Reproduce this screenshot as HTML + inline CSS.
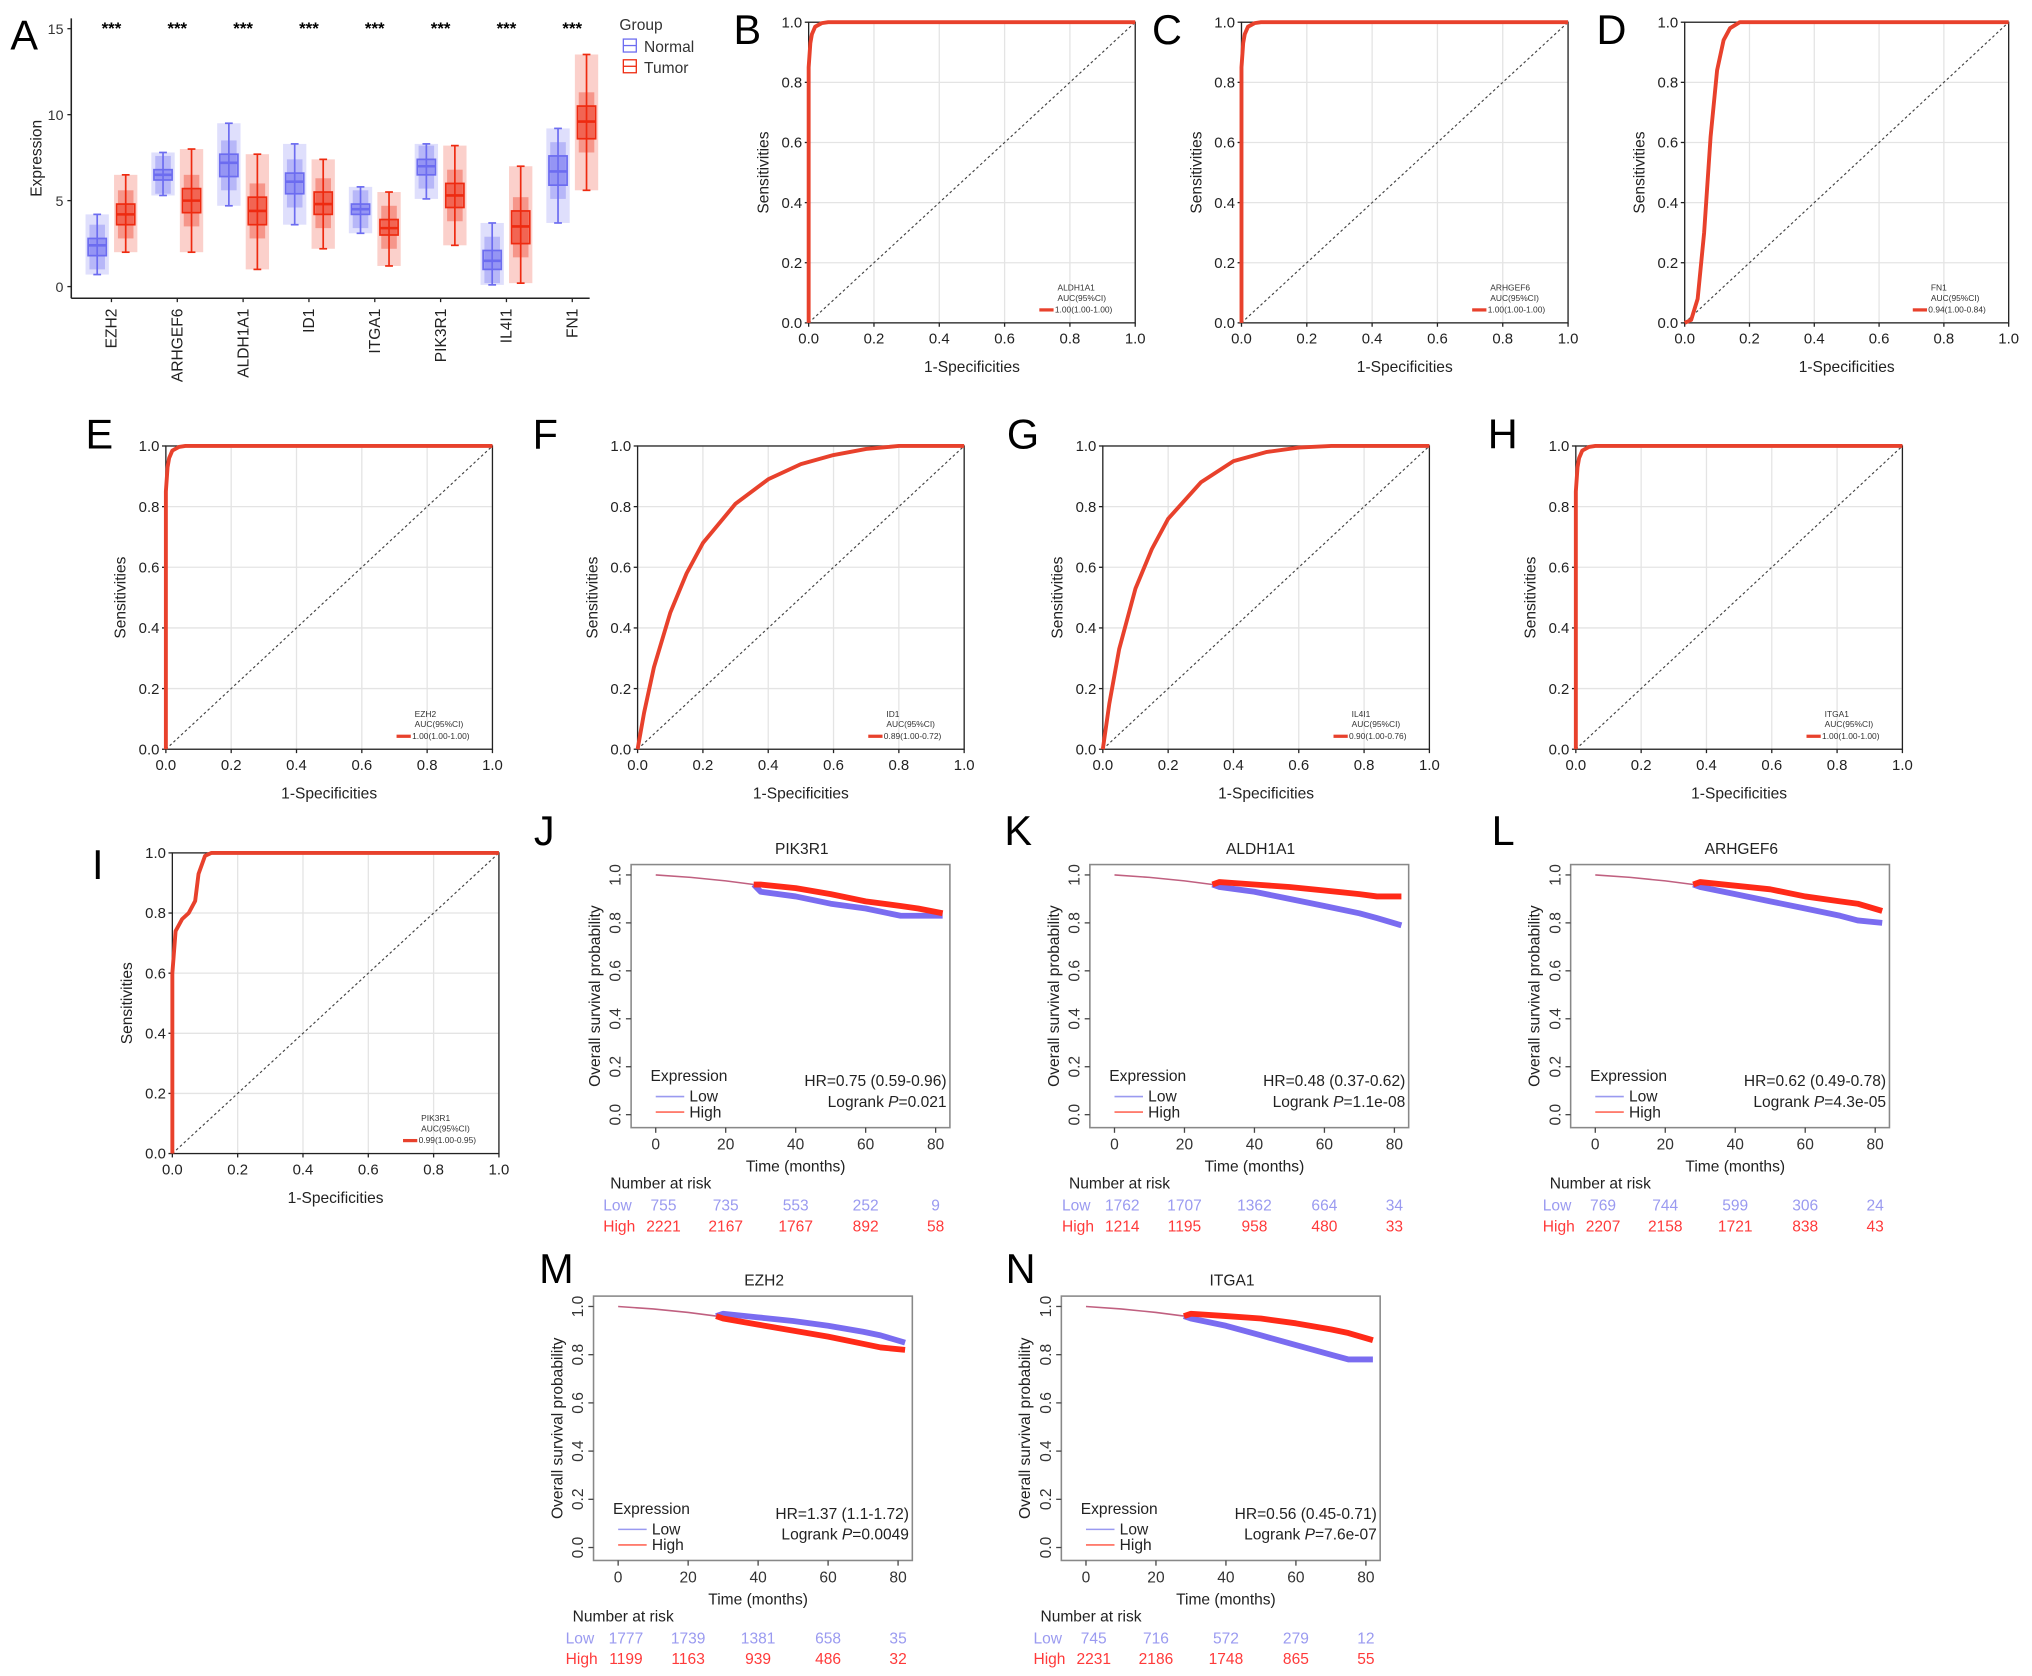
<!DOCTYPE html>
<html><head><meta charset="utf-8"><style>
html,body{margin:0;padding:0;background:#fff}
svg{display:block;font-family:"Liberation Sans",Arial,sans-serif}
</style></head><body>
<svg id="fig" width="2032" height="1676" viewBox="0 0 1568 1293" xmlns="http://www.w3.org/2000/svg"></svg>
<script>
// ---------- Panel A data ----------
const genes=["EZH2","ARHGEF6","ALDH1A1","ID1","ITGA1","PIK3R1","IL4I1","FN1"];
const normalStats=[[0.7,1.8,2.4,2.8,4.2],[5.3,6.2,6.5,6.8,7.8],[4.7,6.4,7.2,7.7,9.5],[3.6,5.4,6.1,6.6,8.3],[3.1,4.2,4.5,4.8,5.8],[5.1,6.5,7.0,7.4,8.3],[0.1,1.0,1.5,2.1,3.7],[3.7,5.9,6.7,7.6,9.2]];
const tumorStats=[[2.0,3.6,4.2,4.8,6.5],[2.0,4.3,5.0,5.7,8.0],[1.0,3.6,4.4,5.2,7.7],[2.2,4.2,4.8,5.5,7.4],[1.2,3.0,3.4,3.9,5.5],[2.4,4.6,5.3,6.0,8.2],[0.2,2.5,3.5,4.4,7.0],[5.6,8.6,9.6,10.5,13.5]];
const exprTicks=[0,5,10,15];
// ---------- ROC data ----------
const rocNames=["B","C","D","E","F","G","H","I"];
const rocGenes=["ALDH1A1","ARHGEF6","FN1","EZH2","ID1","IL4I1","ITGA1","PIK3R1"];
const rocAUC=["1.00(1.00-1.00)","1.00(1.00-1.00)","0.94(1.00-0.84)","1.00(1.00-1.00)","0.89(1.00-0.72)","0.90(1.00-0.76)","1.00(1.00-1.00)","0.99(1.00-0.95)"];
const rocPerfectFpr=[0,0,0.005,0.01,0.02,0.04,0.06,1];
const rocPerfectTpr=[0,0.85,0.93,0.96,0.985,0.997,1,1];
const rocFnFpr=[0,0.02,0.04,0.06,0.08,0.1,0.12,0.14,0.17,0.2,1];
const rocFnTpr=[0,0.01,0.08,0.3,0.62,0.84,0.94,0.98,1,1,1];
const rocIdFpr=[0,0.02,0.05,0.1,0.15,0.2,0.3,0.4,0.5,0.6,0.7,0.8,1];
const rocIdTpr=[0,0.12,0.27,0.45,0.58,0.68,0.81,0.89,0.94,0.97,0.99,1,1];
const rocIlFpr=[0,0.02,0.05,0.1,0.15,0.2,0.3,0.4,0.5,0.6,0.7,1];
const rocIlTpr=[0,0.15,0.33,0.53,0.66,0.76,0.88,0.95,0.98,0.995,1,1];
const rocPiFpr=[0,0,0.01,0.03,0.05,0.07,0.08,0.1,0.12,1];
const rocPiTpr=[0,0.6,0.74,0.78,0.8,0.84,0.93,0.99,1,1];
const rocTicks=[0,0.2,0.4,0.6,0.8,1.0];
// ---------- KM data ----------
const kmTitles=["PIK3R1","ALDH1A1","ARHGEF6","EZH2","ITGA1"];
const kmLetters=["J","K","L","M","N"];
const kmHR=["HR=0.75 (0.59-0.96)","HR=0.48 (0.37-0.62)","HR=0.62 (0.49-0.78)","HR=1.37 (1.1-1.72)","HR=0.56 (0.45-0.71)"];
const kmP=["0.021","1.1e-08","4.3e-05","0.0049","7.6e-07"];
const kmEarlyT=[0,10,20,28];
const kmEarlyS=[1,0.99,0.975,0.96];
const kmLateT=[30,40,50,60,70,75,82];
const kmLow=[[0.93,0.91,0.88,0.86,0.83,0.83,0.83],[0.95,0.93,0.9,0.87,0.84,0.82,0.79],[0.95,0.92,0.89,0.86,0.83,0.81,0.8],[0.97,0.955,0.94,0.92,0.895,0.88,0.85],[0.95,0.92,0.88,0.84,0.8,0.78,0.78]];
const kmHigh=[[0.96,0.945,0.92,0.89,0.87,0.86,0.84],[0.97,0.96,0.95,0.935,0.92,0.91,0.91],[0.97,0.955,0.94,0.91,0.89,0.88,0.85],[0.95,0.925,0.9,0.875,0.845,0.83,0.82],[0.97,0.96,0.95,0.93,0.905,0.89,0.86]];
const riskLow=[[755,735,553,252,9],[1762,1707,1362,664,34],[769,744,599,306,24],[1777,1739,1381,658,35],[745,716,572,279,12]];
const riskHigh=[[2221,2167,1767,892,58],[1214,1195,958,480,33],[2207,2158,1721,838,43],[1199,1163,939,486,32],[2231,2186,1748,865,55]];
const kmXTicks=[0,20,40,60,80];
const kmYTicks=[0,0.2,0.4,0.6,0.8,1.0];

const svg=document.getElementById('fig');
const NS="http://www.w3.org/2000/svg";
function el(tag,attrs,parent,text){const e=document.createElementNS(NS,tag);for(const k in attrs)e.setAttribute(k,attrs[k]);if(text!==undefined)e.textContent=text;(parent||svg).appendChild(e);return e;}
function grp(name){const g=el('g',{});return g;}

// ---------- Panel A ----------
(function(){
 const g=grp('panel-a-boxplot');
 const L=55,R=455,Y0=221,Y15=22,AX=230;
 const y=v=>Y0+(Y15-Y0)*v/15;
 const cx=i=>86+i*50.8;
 const t=el('text',{x:8,y:38,'font-size':32},g,'A');
 el('line',{x1:L,y1:14,x2:L,y2:AX,stroke:'#222','stroke-width':1.2},g);
 el('line',{x1:L,y1:AX,x2:R,y2:AX,stroke:'#222','stroke-width':1.2},g);
 exprTicks.forEach(v=>{el('line',{x1:L-3,y1:y(v),x2:L,y2:y(v),stroke:'#222'},g);
  const tt=el('text',{x:L-6,y:y(v)+4,'font-size':11,'text-anchor':'end',fill:'#333'},g,String(v));});
 const yt=el('text',{x:32,y:122,'font-size':12,'text-anchor':'middle',transform:'rotate(-90 32 122)',fill:'#222'},g,'Expression');
 
 function box(st,x,col,name){
  const b=grp(name);g.appendChild(b);
  el('rect',{x:x-9,y:y(st[4]),width:18,height:y(st[0])-y(st[4]),fill:col,opacity:0.22},b);
  el('rect',{x:x-6,y:y(st[3]+0.8),width:12,height:y(st[1]-0.8)-y(st[3]+0.8),fill:col,opacity:0.35},b);
  el('line',{x1:x,y1:y(st[0]),x2:x,y2:y(st[4]),stroke:col,'stroke-width':1.3},b);
  el('line',{x1:x-3,y1:y(st[0]),x2:x+3,y2:y(st[0]),stroke:col,'stroke-width':1.3},b);
  el('line',{x1:x-3,y1:y(st[4]),x2:x+3,y2:y(st[4]),stroke:col,'stroke-width':1.3},b);
  el('rect',{x:x-7,y:y(st[3]),width:14,height:y(st[1])-y(st[3]),fill:col,'fill-opacity':0.45,stroke:col,'stroke-width':1.3},b);
  el('line',{x1:x-7,y1:y(st[2]),x2:x+7,y2:y(st[2]),stroke:col,'stroke-width':2},b);
 }
 genes.forEach((gn,i)=>{
  box(normalStats[i],cx(i)-11,'#6c6cf0','box-normal-'+gn.toLowerCase());
  box(tumorStats[i],cx(i)+11,'#ee2a10','box-tumor-'+gn.toLowerCase());
  el('line',{x1:cx(i),y1:AX,x2:cx(i),y2:AX+3,stroke:'#222'},g);
  const lt=el('text',{x:cx(i)+4,y:AX+8,'font-size':12,'text-anchor':'end',transform:`rotate(-90 ${cx(i)+4} ${AX+8})`,fill:'#222'},g,gn);
  
  const s=el('text',{x:cx(i),y:26,'font-size':13,'text-anchor':'middle','font-weight':'bold'},g,'***');
  
 });
 const lg=grp('legend');g.appendChild(lg);
 el('text',{x:478,y:23,'font-size':12,fill:'#333'},lg,'Group');
 [['Normal','#6c6cf0',37],['Tumor','#ee2a10',53]].forEach(([n,c,yy])=>{
  const e=grp('legend-entry-'+n.toLowerCase());lg.appendChild(e);
  el('rect',{x:481,y:yy-7,width:10,height:10,fill:'none',stroke:c},e);
  el('line',{x1:481,y1:yy-2,x2:491,y2:yy-2,stroke:c},e);
  el('text',{x:497,y:yy+3,'font-size':12,fill:'#333'},e,n);
 });
})();

// ---------- ROC panels ----------
const rocBoxes=[[624,876,17,249,578,22],[958,1210,17,249,901,22],[1300,1550,17,249,1244,22],[128,380,344,578,78,334],[492,744,344,578,423,334],[851,1103,344,578,789,334],[1216,1468,344,578,1160,334],[133,385,658,890,83,666]];
const rocCurves=[[rocPerfectFpr,rocPerfectTpr],[rocPerfectFpr,rocPerfectTpr],[rocFnFpr,rocFnTpr],[rocPerfectFpr,rocPerfectTpr],[rocIdFpr,rocIdTpr],[rocIlFpr,rocIlTpr],[rocPerfectFpr,rocPerfectTpr],[rocPiFpr,rocPiTpr]];
rocNames.forEach((n,k)=>{
 const [x0,x1,y0,y1,lx,ly]=rocBoxes[k];
 const g=grp('panel-'+n.toLowerCase()+'-roc');
 const X=v=>x0+(x1-x0)*v, Y=v=>y1-(y1-y0)*v;
 const lt=el('text',{x:lx-12,y:ly+12,'font-size':32},g,n);
 rocTicks.forEach(v=>{
  el('line',{x1:X(v),y1:y0,x2:X(v),y2:y1,stroke:'#e4e4e4'},g);
  el('line',{x1:x0,y1:Y(v),x2:x1,y2:Y(v),stroke:'#e4e4e4'},g);
  el('line',{x1:X(v),y1:y1,x2:X(v),y2:y1+3,stroke:'#222'},g);
  el('line',{x1:x0-3,y1:Y(v),x2:x0,y2:Y(v),stroke:'#222'},g);
  el('text',{x:X(v),y:y1+16,'font-size':11.5,'text-anchor':'middle',fill:'#222'},g,v.toFixed(1));
  el('text',{x:x0-5,y:Y(v)+4,'font-size':11.5,'text-anchor':'end',fill:'#222'},g,v.toFixed(1));
 });
 el('rect',{x:x0,y:y0,width:x1-x0,height:y1-y0,fill:'none',stroke:'#222','stroke-width':1},g);
 el('line',{x1:X(0),y1:Y(0),x2:X(1),y2:Y(1),stroke:'#444','stroke-dasharray':'2,2','stroke-width':0.9},g);
 const [fx,ty]=rocCurves[k];
 const p=fx.map((f,i)=>(i?'L':'M')+X(f).toFixed(1)+' '+Y(ty[i]).toFixed(1)).join(' ');
 const c=el('path',{d:p,fill:'none',stroke:'#e8412c','stroke-width':3,'stroke-linejoin':'round'},g);
 
 el('text',{x:(x0+x1)/2,y:y1+38,'font-size':12,'text-anchor':'middle',fill:'#222'},g,'1-Specificities');
 const my=(y0+y1)/2;
 el('text',{x:x0-31,y:my,'font-size':12,'text-anchor':'middle',transform:`rotate(-90 ${x0-31} ${my})`,fill:'#222'},g,'Sensitivities');
 const lx2=x1-60;
 el('text',{x:lx2,y:y1-25,'font-size':6.5,fill:'#333'},g,rocGenes[k]);
 el('text',{x:lx2,y:y1-17,'font-size':6.5,fill:'#333'},g,'AUC(95%CI)');
 el('line',{x1:lx2-14,y1:y1-10,x2:lx2-3,y2:y1-10,stroke:'#e8412c','stroke-width':2.5},g);
 el('text',{x:lx2-2,y:y1-8,'font-size':6.5,fill:'#333'},g,rocAUC[k]);
});

// ---------- KM panels ----------
const kmPos=[[506,667,870,424,640],[860,667,870,787,640],[1231,667,870,1163,640],[477,1000,1204,428,978],[838,1000,1204,788,978]];
kmTitles.forEach((tn,k)=>{
 const [ox,by0,by1,lx,ly]=kmPos[k];
 const g=grp('panel-'+kmLetters[k].toLowerCase()+'-km');
 const X=t=>ox+(216)*t/80, Y=v=>(by1-10)-((by1-10)-(by0+8))*v;
 const lt=el('text',{x:lx-12,y:ly+12,'font-size':32},g,kmLetters[k]);
 el('text',{x:(X(0)+X(82))/2+2,y:by0-8,'font-size':12,'text-anchor':'middle',fill:'#222'},g,tn);
 el('rect',{x:ox-19,y:by0,width:246,height:by1-by0,fill:'none',stroke:'#888','stroke-width':1.2},g);
 kmXTicks.forEach((t,i)=>{el('line',{x1:X(t),y1:by1,x2:X(t),y2:by1+4,stroke:'#444'},g);
  el('text',{x:X(t),y:by1+17,'font-size':12,'text-anchor':'middle',fill:'#333'},g,String(t));});
 kmYTicks.forEach(v=>{el('line',{x1:ox-23,y1:Y(v),x2:ox-19,y2:Y(v),stroke:'#444'},g);
  el('text',{x:ox-27,y:Y(v),'font-size':12,'text-anchor':'middle',transform:`rotate(-90 ${ox-27} ${Y(v)})`,fill:'#333'},g,v.toFixed(1));});
 const my=(by0+by1)/2;
 el('text',{x:ox-43,y:my,'font-size':12,'text-anchor':'middle',transform:`rotate(-90 ${ox-43} ${my})`,fill:'#222'},g,'Overall survival probability');
 el('text',{x:X(40),y:by1+34,'font-size':12,'text-anchor':'middle',fill:'#222'},g,'Time (months)');
 const early=kmEarlyT.map((t,i)=>(i?'L':'M')+X(t).toFixed(1)+' '+Y(kmEarlyS[i]).toFixed(1)).join(' ');
 el('path',{d:early,fill:'none',stroke:'#c06080','stroke-width':1.2},g);
 function late(arr,col,name){
  const d='M'+X(28)+' '+Y(0.96)+' '+kmLateT.map((t,i)=>'L'+X(t).toFixed(1)+' '+Y(arr[i]).toFixed(1)).join(' ');
  const p=el('path',{d:d,fill:'none',stroke:col,'stroke-width':4.5,'stroke-linejoin':'round'},g);
  
 }
 late(kmLow[k],'#7a6cf0','km-curve-low');
 late(kmHigh[k],'#ff2a18','km-curve-high');
 el('text',{x:ox-4,y:by1-36,'font-size':12,fill:'#222'},g,'Expression');
 el('line',{x1:ox,y1:by1-24,x2:ox+22,y2:by1-24,stroke:'#9a9af0','stroke-width':1.2},g);
 el('line',{x1:ox,y1:by1-12,x2:ox+22,y2:by1-12,stroke:'#ff6a5a','stroke-width':1.2},g);
 el('text',{x:ox+26,y:by1-20,'font-size':12,fill:'#222'},g,'Low');
 el('text',{x:ox+26,y:by1-8,'font-size':12,fill:'#222'},g,'High');
 el('text',{x:X(82)+3,y:by1-32,'font-size':12,'text-anchor':'end',fill:'#222'},g,kmHR[k]);
 const pt=el('text',{x:X(82)+3,y:by1-16,'font-size':12,'text-anchor':'end',fill:'#222'},g);
 pt.innerHTML='Logrank <tspan font-style="italic">P</tspan>='+kmP[k];
 el('text',{x:X(-13),y:by1+47,'font-size':12,fill:'#222'},g,'Number at risk');
 el('text',{x:X(-15),y:by1+64,'font-size':12,fill:'#9a9af0'},g,'Low');
 el('text',{x:X(-15),y:by1+80,'font-size':12,fill:'#ff3a3a'},g,'High');
 kmXTicks.forEach((t,i)=>{
  el('text',{x:X(t)+(i?0:6),y:by1+64,'font-size':12,'text-anchor':'middle',fill:'#9a9af0'},g,String(riskLow[k][i]));
  el('text',{x:X(t)+(i?0:6),y:by1+80,'font-size':12,'text-anchor':'middle',fill:'#ff3a3a'},g,String(riskHigh[k][i]));
 });
});
</script>
</body></html>
